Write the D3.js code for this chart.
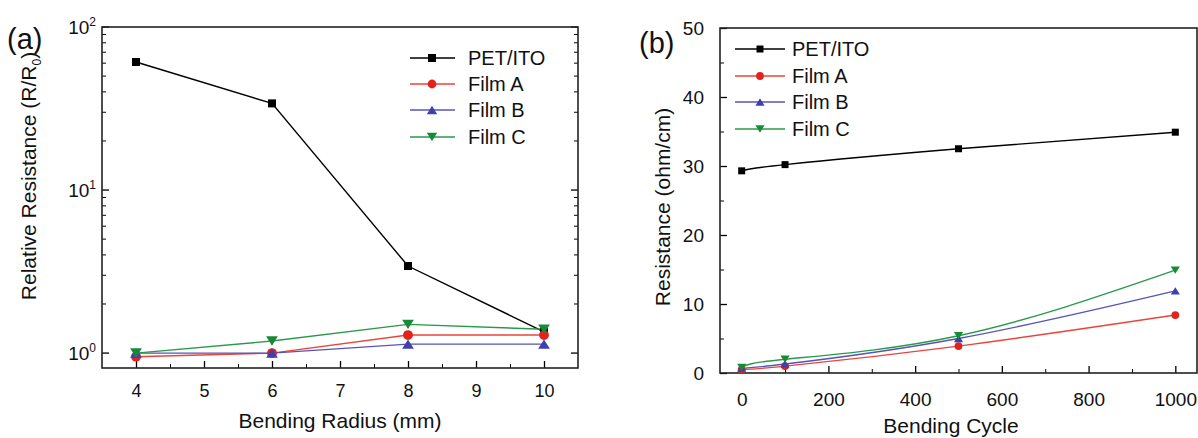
<!DOCTYPE html>
<html>
<head>
<meta charset="utf-8">
<script src="https://cdn.jsdelivr.net/npm/d3@7"></script>
<style>
  body { margin: 0; background: #fff; }
  svg { display: block; font-family: "Liberation Sans", Arial, sans-serif; }
</style>
</head>
<body>
<svg width="1198" height="438"></svg>
<script>
// dados do painel (a)
const radius = [4, 6, 8, 10];
const relPET = [61, 34, 3.42, 1.35];
const relA = [0.95, 1.0, 1.29, 1.29];
const relB = [1.0, 1.0, 1.135, 1.135];
const relC = [1.0, 1.185, 1.5, 1.4];

// dados do painel (b)
const cycles = [0, 100, 500, 1000];
const resPET = [29.3, 30.2, 32.5, 34.9];
const resA = [0.5, 1.0, 3.9, 8.4];
const resB = [0.7, 1.3, 5.0, 11.9];
const resC = [0.8, 2.0, 5.4, 14.9];

const seriesNames = ["PET/ITO", "Film A", "Film B", "Film C"];
const radiusTicks = [4, 5, 6, 7, 8, 9, 10];
const cycleTicks = [0, 200, 400, 600, 800, 1000];
const resTicks = [0, 10, 20, 30, 40, 50];
const decades = [0, 1, 2];

const colors = ["#000", "#e3221b", "#3f3fae", "#168a36"];
const lineColors = ["#000", "#e8453d", "#5555b8", "#2a9a4a"];
const shapes = ["square", "circle", "up", "down"];

const svg = d3.select("svg");

function marker(g, shape, x, y, s, fill) {
  if (shape == "square") {
    g.append("rect").attr("x", x - s / 2).attr("y", y - s / 2)
      .attr("width", s).attr("height", s).attr("fill", fill);
  } else if (shape == "circle") {
    g.append("circle").attr("cx", x).attr("cy", y).attr("r", s / 2 + 0.4).attr("fill", fill);
  } else {
    const h = s * 1.05, w = s * 1.3;
    const pts = shape == "up"
      ? [[x - w / 2, y + h / 2], [x + w / 2, y + h / 2], [x, y - h / 2]]
      : [[x - w / 2, y - h / 2], [x + w / 2, y - h / 2], [x, y + h / 2]];
    g.append("path").attr("d", "M" + pts.join("L") + "Z").attr("fill", fill);
  }
}

// ---------- painel (a) ----------
const A = { l: 102, t: 27, r: 578, b: 368 };
const xa = d3.scaleLinear().domain([3.5, 10.5]).range([A.l, A.r]);
const ya = d3.scaleLog().domain([0.81, 100]).range([A.b, A.t]);

const ga = svg.append("g");

// eixo x com tics para dentro
ga.append("g").attr("transform", `translate(0,${A.b})`)
  .call(d3.axisBottom(xa).tickValues(radiusTicks).tickFormat(d3.format("d"))
    .tickSizeInner(-7).tickSizeOuter(0).tickPadding(16))
  .call(g => g.select(".domain").remove())
  .call(g => g.selectAll("text").attr("font-size", 18).attr("font-family", "Liberation Sans, Arial").attr("fill", "#111"))
  .call(g => g.selectAll("line").attr("stroke-width", 1.3));
ga.append("g").attr("transform", `translate(0,${A.b})`)
  .call(d3.axisBottom(xa).tickValues(radiusTicks.slice(0, -1).map(d => d + 0.5)).tickSize(-4).tickFormat(""))
  .call(g => g.select(".domain").remove());

// eixo y log: maiores e menores
const minorLog = [];
decades.forEach(e => { for (let k = 2; k <= 9; k++) { const v = k * Math.pow(10, e); if (v < 100) minorLog.push(v); } });
[A.l, A.r].forEach((x0, i) => {
  const dir = i == 0 ? 1 : -1;
  ga.selectAll(null).data(decades.map(e => Math.pow(10, e))).enter().append("line")
    .attr("x1", x0).attr("x2", x0 + dir * 7).attr("y1", d => ya(d)).attr("y2", d => ya(d))
    .attr("stroke", "#000").attr("stroke-width", 1.3);
  ga.selectAll(null).data(minorLog).enter().append("line")
    .attr("x1", x0).attr("x2", x0 + dir * 4).attr("y1", d => ya(d)).attr("y2", d => ya(d))
    .attr("stroke", "#000").attr("stroke-width", 1);
});
const yl = ga.selectAll(null).data(decades).enter().append("text")
  .attr("x", A.l - 6).attr("y", d => ya(Math.pow(10, d)) + 7)
  .attr("text-anchor", "end").attr("font-size", 19).attr("fill", "#111");
yl.append("tspan").text("10");
yl.append("tspan").attr("dy", -8).attr("font-size", 12).text(d => d);

ga.append("rect").attr("x", A.l).attr("y", A.t).attr("width", A.r - A.l).attr("height", A.b - A.t)
  .attr("fill", "none").attr("stroke", "#222").attr("stroke-width", 1.6);

const relData = [relPET, relA, relB, relC];
const lineA = d3.line().x((d, i) => xa(radius[i])).y(d => ya(d));
relData.forEach((s, k) => {
  ga.append("path").attr("d", lineA(s)).attr("fill", "none")
    .attr("stroke", lineColors[k]).attr("stroke-width", 1.4);
});
relData.forEach((s, k) => {
  s.forEach((v, i) => marker(ga, shapes[k], xa(radius[i]), ya(v), k == 0 ? 8 : 9, colors[k]));
});

ga.append("text").attr("x", (A.l + A.r) / 2).attr("y", 428).attr("text-anchor", "middle")
  .attr("font-size", 21).attr("fill", "#111").text("Bending Radius (mm)");
const ta = ga.append("text").attr("transform", "translate(36,176) rotate(-90)")
  .attr("text-anchor", "middle").attr("font-size", 21).attr("fill", "#111");
ta.append("tspan").text("Relative Resistance (R/R");
ta.append("tspan").attr("dy", 5).attr("font-size", 12).text("0");
ta.append("tspan").attr("dy", -5).text(")");
ga.append("text").attr("x", 7).attr("y", 49).attr("font-size", 29).attr("fill", "#111").text("(a)");

// legenda (a)
const legA = ga.append("g");
seriesNames.forEach((n, k) => {
  const y = [58, 84, 110, 137][k];
  legA.append("line").attr("x1", 410).attr("x2", 455).attr("y1", y).attr("y2", y)
    .attr("stroke", lineColors[k]).attr("stroke-width", 1.4);
  marker(legA, shapes[k], 432, y, 8, colors[k]);
  legA.append("text").attr("x", 468).attr("y", y + 7).attr("font-size", 20).attr("fill", "#111").text(n);
});

// ---------- painel (b) ----------
const B = { l: 720, t: 28, r: 1197, b: 373 };
const xb = d3.scaleLinear().domain([-50, 1050]).range([B.l, B.r]);
const yb = d3.scaleLinear().domain([0, 50]).range([B.b, B.t]);
const gb = svg.append("g");

gb.append("g").attr("transform", `translate(0,${B.b})`)
  .call(d3.axisBottom(xb).tickValues(cycleTicks).tickFormat(d3.format("d"))
    .tickSizeInner(-7).tickSizeOuter(0).tickPadding(20))
  .call(g => g.select(".domain").remove())
  .call(g => g.selectAll("text").attr("font-size", 19).attr("font-family", "Liberation Sans, Arial").attr("fill", "#111"))
  .call(g => g.selectAll("line").attr("stroke-width", 1.3));
gb.append("g").attr("transform", `translate(0,${B.b})`)
  .call(d3.axisBottom(xb).tickValues(cycleTicks.slice(0, -1).map(d => d + 100)).tickSize(-4).tickFormat(""))
  .call(g => g.select(".domain").remove());

gb.append("g").attr("transform", `translate(${B.l},0)`)
  .call(d3.axisLeft(yb).tickValues(resTicks).tickSizeInner(-7).tickSizeOuter(0).tickPadding(16))
  .call(g => g.select(".domain").remove())
  .call(g => g.selectAll("text").attr("font-size", 19).attr("font-family", "Liberation Sans, Arial").attr("fill", "#111"))
  .call(g => g.selectAll("line").attr("stroke-width", 1.3));
gb.append("g").attr("transform", `translate(${B.l},0)`)
  .call(d3.axisLeft(yb).tickValues(resTicks.slice(0, -1).map(d => d + 5)).tickSize(-4).tickFormat(""))
  .call(g => g.select(".domain").remove());

gb.append("rect").attr("x", B.l).attr("y", B.t).attr("width", B.r - B.l).attr("height", B.b - B.t)
  .attr("fill", "none").attr("stroke", "#222").attr("stroke-width", 1.6);

const resData = [resPET, resA, resB, resC];
const lineB = d3.line().curve(d3.curveNatural).x((d, i) => xb(cycles[i])).y(d => yb(d));
resData.forEach((s, k) => {
  gb.append("path").attr("d", lineB(s)).attr("fill", "none")
    .attr("stroke", lineColors[k]).attr("stroke-width", 1.4);
});
resData.forEach((s, k) => {
  s.forEach((v, i) => marker(gb, shapes[k], xb(cycles[i]), yb(v), 7, colors[k]));
});

gb.append("text").attr("x", 951).attr("y", 433).attr("text-anchor", "middle")
  .attr("font-size", 21).attr("fill", "#111").text("Bending Cycle");
gb.append("text").attr("transform", "translate(670,207) rotate(-90)")
  .attr("text-anchor", "middle").attr("font-size", 21).attr("fill", "#111").text("Resistance (ohm/cm)");
gb.append("text").attr("x", 639).attr("y", 53).attr("font-size", 29).attr("fill", "#111").text("(b)");

const legB = gb.append("g");
seriesNames.forEach((n, k) => {
  const y = [49, 76, 102, 129][k];
  legB.append("line").attr("x1", 735).attr("x2", 785).attr("y1", y).attr("y2", y)
    .attr("stroke", lineColors[k]).attr("stroke-width", 1.4);
  marker(legB, shapes[k], 760, y, 7, colors[k]);
  legB.append("text").attr("x", 792).attr("y", y + 7).attr("font-size", 20).attr("fill", "#111").text(n);
});
</script>
</body>
</html>
